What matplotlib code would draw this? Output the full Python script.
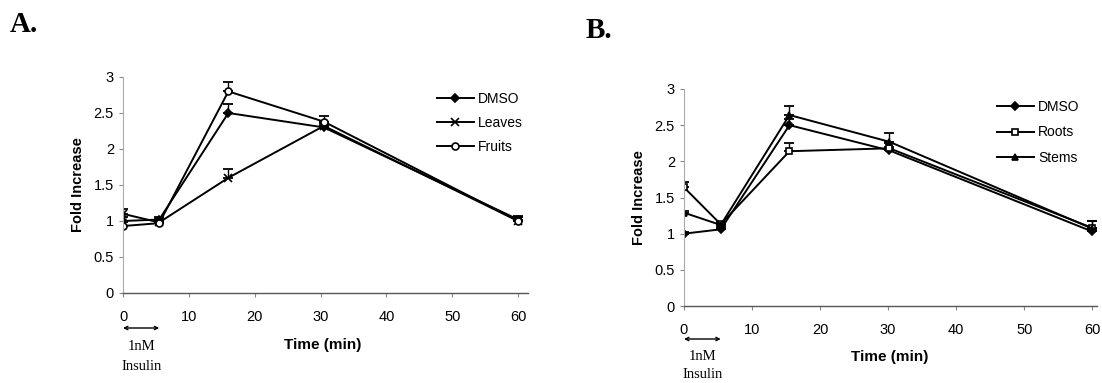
import matplotlib
matplotlib.use("Agg")
import matplotlib.pyplot as plt

# panel A
time_a = [0, 5.5, 16, 30.5, 60]
dmso_a = [1.0, 1.02, 2.5, 2.3, 1.02]
leaves_a = [1.1, 0.98, 1.6, 2.32, 1.0]
fruits_a = [0.93, 0.97, 2.8, 2.38, 1.0]
dmso_a_err = [0.05, 0.04, 0.12, 0.05, 0.05]
leaves_a_err = [0.06, 0.05, 0.12, 0.05, 0.05]
fruits_a_err = [0.05, 0.04, 0.13, 0.08, 0.06]

# panel B
time_b = [0, 5.4, 15.5, 30.2, 60]
dmso_b = [1.0, 1.06, 2.5, 2.15, 1.03]
roots_b = [1.64, 1.13, 2.14, 2.18, 1.08]
stems_b = [1.29, 1.12, 2.64, 2.27, 1.07]
dmso_b_err = [0.02, 0.03, 0.08, 0.05, 0.05]
roots_b_err = [0.07, 0.03, 0.12, 0.08, 0.1]
stems_b_err = [0.03, 0.03, 0.13, 0.12, 0.1]

yticks = [0, 0.5, 1, 1.5, 2, 2.5, 3]
ytick_labels = ['0', '0.5', '1', '1.5', '2', '2.5', '3']
xticks = [0, 10, 20, 30, 40, 50, 60]

plt.rcParams['font.family'] = ['Liberation Sans', 'DejaVu Sans']

W, H = 1102, 383
fig = plt.figure(figsize=(W / 100, H / 100), dpi=100)
ax_a = fig.add_axes([123 / W, 1 - 293 / H, 405 / W, 216 / H])
ax_b = fig.add_axes([684 / W, 1 - 306 / H, 413 / W, 217 / H])


def draw_series(ax, t, y, err, marker, face, ms, label):
    ax.errorbar(t, y, yerr=[[0] * len(err), err], fmt='none', ecolor='black',
                capsize=3.5, elinewidth=1.0, capthick=1.3)
    ax.plot(t, y, color='black', lw=1.4, marker=marker, mfc=face, mec='black',
            ms=ms, mew=1.2, label=label)


def style_axis(ax, xmax):
    ax.set_xlim(0, xmax)
    ax.set_ylim(0, 3)
    ax.set_xticks(xticks)
    ax.set_yticks(yticks)
    ax.set_yticklabels(ytick_labels)
    ax.spines['top'].set_visible(False)
    ax.spines['right'].set_visible(False)
    ax.spines['left'].set_color('#aaaaaa')
    ax.spines['left'].set_linewidth(0.8)
    ax.spines['bottom'].set_color('#555555')
    ax.spines['bottom'].set_linewidth(1.0)
    ax.tick_params(axis='both', labelsize=10.5, length=3, width=0.8, color='#888888')
    ax.tick_params(axis='x', pad=9)
    ax.set_ylabel('Fold Increase', fontsize=10.5, fontweight='bold', labelpad=6)


def insulin_marker(ax_y_px, nm_px, ins_px, x0, x1, bottom_px, height_px):
    # double arrow and label below the x axis, positions in pixels from top
    def frac(p):
        return -(p - bottom_px) / height_px
    return frac(ax_y_px), frac(nm_px), frac(ins_px)


def add_insulin(ax, arrow_y, nm_y, ins_y, x1):
    ax.annotate('', xy=(0, arrow_y), xytext=(x1, arrow_y),
                xycoords=('data', 'axes fraction'),
                textcoords=('data', 'axes fraction'),
                arrowprops=dict(arrowstyle='<->', lw=1.0, color='black',
                                shrinkA=0, shrinkB=0, mutation_scale=6),
                annotation_clip=False)
    ax.text(x1 / 2, nm_y, '1nM', transform=ax.get_xaxis_transform(),
            ha='center', va='center', fontsize=10.5, family='Liberation Serif')
    ax.text(x1 / 2, ins_y, 'Insulin', transform=ax.get_xaxis_transform(),
            ha='center', va='center', fontsize=10.5, family='Liberation Serif')


def add_legend(ax, x_px, y_px, spacing):
    ax.legend(loc='upper left', bbox_to_anchor=(x_px / W, 1 - y_px / H),
              bbox_transform=fig.transFigure, frameon=False, fontsize=10,
              handlelength=2.65, handletextpad=0.3, labelspacing=spacing,
              borderpad=0, borderaxespad=0)


draw_series(ax_a, time_a, dmso_a, dmso_a_err, 'D', 'black', 4.5, 'DMSO')
draw_series(ax_a, time_a, leaves_a, leaves_a_err, 'x', 'black', 6, 'Leaves')
draw_series(ax_a, time_a, fruits_a, fruits_a_err, 'o', 'white', 5, 'Fruits')
style_axis(ax_a, 61.5)
a_arrow, a_nm, a_ins = insulin_marker(328, 347, 366, 0, 5.5, 293, 216)
add_insulin(ax_a, a_arrow, a_nm, a_ins, 5.5)
add_legend(ax_a, 437, 92, 0.72)

draw_series(ax_b, time_b, dmso_b, dmso_b_err, 'D', 'black', 4.5, 'DMSO')
draw_series(ax_b, time_b, roots_b, roots_b_err, 's', 'white', 5, 'Roots')
draw_series(ax_b, time_b, stems_b, stems_b_err, '^', 'black', 5, 'Stems')
style_axis(ax_b, 60.7)
b_arrow, b_nm, b_ins = insulin_marker(339, 356, 375, 0, 5.4, 306, 217)
add_insulin(ax_b, b_arrow, b_nm, b_ins, 5.4)
add_legend(ax_b, 997, 100, 0.82)

fig.text(323 / W, 1 - 345 / H, 'Time (min)', ha='center', va='center',
         fontsize=11, fontweight='bold')
fig.text(890 / W, 1 - 357 / H, 'Time (min)', ha='center', va='center',
         fontsize=11, fontweight='bold')

fig.text(24 / W, 1 - 25 / H, 'A.', ha='center', va='center', fontsize=21,
         fontweight='bold', family='Liberation Serif')
fig.text(599 / W, 1 - 31 / H, 'B.', ha='center', va='center', fontsize=21,
         fontweight='bold', family='Liberation Serif')

fig.savefig('out.png', dpi=100)
